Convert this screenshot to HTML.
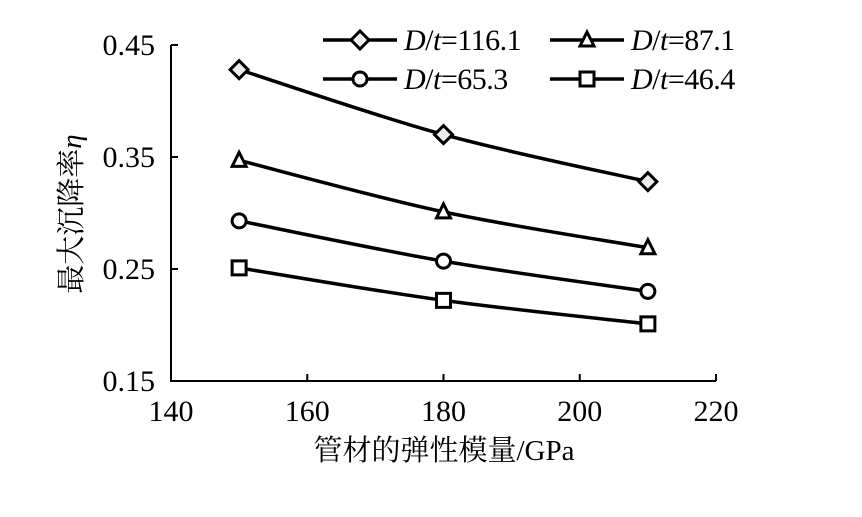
<!DOCTYPE html>
<html><head><meta charset="utf-8"><style>
body{margin:0;background:#fff}
svg text{font-family:"Liberation Serif","Noto Serif CJK SC",serif;fill:#000}
</style></head><body>
<svg id="c" width="862" height="512"></svg>
<script>
const xs=[150,180,210];
const sD116=[0.428,0.370,0.328];
const sD87=[0.347,0.301,0.269];
const sD65=[0.293,0.257,0.230];
const sD46=[0.251,0.222,0.201];
const xTicks=[140,160,180,200,220];
const yTicks=[0.15,0.25,0.35,0.45];
const labels=["116.1","87.1","65.3","46.4"];
const markers=["diamond","triangle","circle","square"];
const series=[sD116,sD87,sD65,sD46];
const NS="http://www.w3.org/2000/svg";
const svg=document.getElementById('c');
const X=v=>171+(v-140)*(545/80);
const Y=v=>381-(v-0.15)*(336/0.3);
function mk(t,a,p){const e=document.createElementNS(NS,t);for(const k in a)e.setAttribute(k,a[k]);(p||svg).appendChild(e);return e;}
mk('path',{d:`M${X(140)} 45 V381 H${X(220)}`,fill:'none',stroke:'#000','stroke-width':2,});
yTicks.forEach(v=>{mk('line',{x1:171,x2:178,y1:Y(v),y2:Y(v),stroke:'#000','stroke-width':2});
const t=mk('text',{x:155,y:Y(v)+10,'text-anchor':'end','font-size':30});t.textContent=v.toFixed(2);
});
xTicks.forEach(v=>{mk('line',{x1:X(v),x2:X(v),y1:381,y2:374,stroke:'#000','stroke-width':2});
const t=mk('text',{x:X(v),y:421,'text-anchor':'middle','font-size':30});t.textContent=v;
});
const xt=mk('text',{x:444,y:460,'text-anchor':'middle','font-size':29});xt.textContent='管材的弹性模量/GPa';

const yt=mk('text',{x:0,y:0,'text-anchor':'middle','font-size':29,transform:'translate(81,214) rotate(-90)'});
yt.innerHTML='最大沉降率<tspan font-style="italic">η</tspan>';

function marker(type,cx,cy,g){const s={fill:'#fff',stroke:'#000','stroke-width':3};
if(type==='diamond')return mk('polygon',Object.assign({points:`${cx},${cy-9} ${cx+9},${cy} ${cx},${cy+9} ${cx-9},${cy}`},s,{fill:'#eee'}),g);
if(type==='triangle')return mk('polygon',Object.assign({points:`${cx},${cy-8} ${cx+7},${cy+6} ${cx-7},${cy+6}`},s),g);
if(type==='circle')return mk('circle',Object.assign({cx,cy,r:7},s),g);
return mk('rect',Object.assign({x:cx-7,y:cy-7,width:14,height:14},s),g);}
function smooth(p){let d=`M${p[0][0]},${p[0][1]}`;for(let i=0;i<p.length-1;i++){const p0=p[i-1]||p[i],p1=p[i],p2=p[i+1],p3=p[i+2]||p2;
d+=` C${p1[0]+(p2[0]-p0[0])/6},${p1[1]+(p2[1]-p0[1])/6} ${p2[0]-(p3[0]-p1[0])/6},${p2[1]-(p3[1]-p1[1])/6} ${p2[0]},${p2[1]}`;}return d;}
series.forEach((s,i)=>{const g=mk('g',{});
const pts=xs.map((x,j)=>[X(x),Y(s[j])]);
mk('path',{d:smooth(pts),fill:'none',stroke:'#000','stroke-width':3.5},g);
pts.forEach(p=>{const m=marker(markers[i],p[0],p[1],g);});});
const lp=[[323,40],[550,40],[323,79],[550,79]];
series.forEach((s,i)=>{const [lx,ly]=lp[i];const g=mk('g',{});
mk('line',{x1:lx,x2:lx+74,y1:ly,y2:ly,stroke:'#000','stroke-width':3.5},g);marker(markers[i],lx+37,ly,g);
const t=mk('text',{x:lx+81,y:ly+10,'font-size':30,'letter-spacing':'-0.5'},g);t.innerHTML='<tspan font-style="italic">D</tspan>/<tspan font-style="italic">t</tspan>='+labels[i];});
</script>
</body></html>
